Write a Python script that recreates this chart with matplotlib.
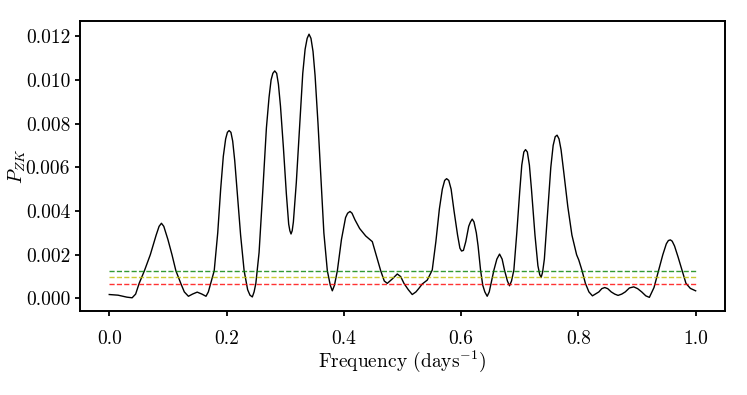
import numpy as np
import matplotlib
matplotlib.use('Agg')
from matplotlib import pyplot as plt
from matplotlib.ticker import FormatStrFormatter

plt.rcParams['font.family'] = 'serif'
plt.rcParams['font.serif'] = ['cmr10']
plt.rcParams['mathtext.fontset'] = 'cm'
plt.rcParams['axes.formatter.use_mathtext'] = True

# frequency (days^-1) and ZK power
freq = [0.000, 0.015, 0.030, 0.039, 0.045, 0.051, 0.060, 0.070, 0.080, 0.085,
        0.089, 0.093, 0.100, 0.107, 0.1136, 0.122, 0.128, 0.135, 0.142, 0.150,
        0.158, 0.165, 0.169, 0.173, 0.179, 0.185, 0.190, 0.1945, 0.1985, 0.2015,
        0.2044, 0.2075, 0.2105, 0.214, 0.219, 0.224, 0.230, 0.236, 0.240, 0.244,
        0.247, 0.250, 0.2555, 0.262, 0.268, 0.2725, 0.276, 0.279, 0.2822, 0.2855,
        0.2885, 0.292, 0.297, 0.302, 0.306, 0.308, 0.310, 0.312, 0.314, 0.319,
        0.325, 0.330, 0.334, 0.3375, 0.3407, 0.344, 0.3475, 0.351, 0.356, 0.361,
        0.366, 0.3719, 0.377, 0.3804, 0.384, 0.389, 0.396, 0.403, 0.4065, 0.4106,
        0.414, 0.419, 0.427, 0.4373, 0.4486, 0.455, 0.4629, 0.469, 0.4741, 0.483,
        0.4912, 0.497, 0.5026, 0.510, 0.5167, 0.523, 0.528, 0.5337, 0.5423, 0.5508,
        0.557, 0.563, 0.568, 0.572, 0.5753, 0.579, 0.583, 0.588, 0.594, 0.598,
        0.6008, 0.604, 0.608, 0.613, 0.616, 0.619, 0.622, 0.626, 0.629, 0.6332,
        0.637, 0.6405, 0.6445, 0.648, 0.652, 0.656, 0.661, 0.6656, 0.670, 0.674,
        0.679, 0.6826, 0.686, 0.690, 0.695, 0.700, 0.7035, 0.707, 0.7099, 0.713,
        0.7165, 0.720, 0.726, 0.731, 0.734, 0.7365, 0.739, 0.742, 0.748, 0.753,
        0.757, 0.7605, 0.7637, 0.767, 0.7705, 0.775, 0.782, 0.789, 0.797, 0.8007,
        0.806, 0.812, 0.818, 0.824, 0.829, 0.835, 0.840, 0.845, 0.850, 0.856,
        0.862, 0.8677, 0.874, 0.880, 0.887, 0.8944, 0.901, 0.908, 0.915, 0.9211,
        0.929, 0.937, 0.944, 0.950, 0.9535, 0.9569, 0.960, 0.964, 0.970, 0.9767,
        0.9835, 0.991, 1.000]
power = [0.00018, 0.00015, 0.00006, 0.00003, 0.0002, 0.00069, 0.00127, 0.0020, 0.0029, 0.0033,
         0.00344, 0.0033, 0.0027, 0.0020, 0.00127, 0.00069, 0.0003, 0.0001, 0.0002, 0.00029,
         0.0002, 0.0001, 0.0003, 0.00069, 0.00127, 0.0030, 0.0050, 0.0065, 0.0073, 0.0076,
         0.00768, 0.0076, 0.0072, 0.0063, 0.0046, 0.0029, 0.00127, 0.0004, 0.00015, 0.00007,
         0.0003, 0.00069, 0.0021, 0.0050, 0.0078, 0.0092, 0.0100, 0.0103, 0.01041, 0.0103,
         0.0098, 0.0088, 0.0069, 0.0048, 0.0034, 0.0031, 0.00295, 0.0031, 0.0035, 0.0053,
         0.0080, 0.0103, 0.0114, 0.0119, 0.01209, 0.0119, 0.0113, 0.0102, 0.0080, 0.0055,
         0.0030, 0.00127, 0.0006, 0.00035, 0.0006, 0.00127, 0.0027, 0.0037, 0.0039, 0.00398,
         0.0039, 0.0036, 0.0032, 0.00286, 0.0026, 0.0020, 0.00127, 0.0008, 0.00069, 0.0009,
         0.00112, 0.0010, 0.00069, 0.0004, 0.00018, 0.0003, 0.00046, 0.00066, 0.00084, 0.0013,
         0.0026, 0.0041, 0.0050, 0.0054, 0.00548, 0.0054, 0.0050, 0.0040, 0.0029, 0.0023,
         0.00217, 0.0022, 0.0026, 0.0033, 0.0035, 0.00363, 0.0035, 0.0030, 0.0024, 0.0013,
         0.0006, 0.0003, 0.0001, 0.0003, 0.0008, 0.0013, 0.0018, 0.00203, 0.0018, 0.0013,
         0.0008, 0.00058, 0.0008, 0.0013, 0.0030, 0.0049, 0.0061, 0.0067, 0.00681, 0.0067,
         0.0061, 0.0050, 0.0029, 0.0015, 0.0011, 0.00096, 0.0012, 0.0018, 0.0041, 0.0060,
         0.0070, 0.0074, 0.00747, 0.0073, 0.0068, 0.0058, 0.0042, 0.0029, 0.0020, 0.00176,
         0.0013, 0.00069, 0.0003, 0.00012, 0.0002, 0.0003, 0.00045, 0.0005, 0.00045, 0.0003,
         0.0002, 0.00014, 0.0002, 0.0003, 0.00048, 0.00053, 0.00045, 0.0003, 0.00012, 0.00005,
         0.0005, 0.0013, 0.0020, 0.0025, 0.00265, 0.00268, 0.00262, 0.0024, 0.0019, 0.0013,
         0.00069, 0.00046, 0.00035]

# false alarm levels
fap_levels = [0.00126, 0.00097, 0.00068]
fap_colors = ['g', 'y', 'r']

fig = plt.figure(figsize=(7.47, 3.95), dpi=100)
ax = fig.add_axes([0.107, 0.2127, 0.8635, 0.7341])

ax.plot(freq, power, color='k', lw=1.0)
for lev, c in zip(fap_levels, fap_colors):
    ax.plot([freq[0], freq[-1]], [lev, lev], color=c, ls='--', lw=1.0, alpha=0.8)

ax.set_xticks([0.0, 0.2, 0.4, 0.6, 0.8, 1.0])
ax.set_yticks([0.000, 0.002, 0.004, 0.006, 0.008, 0.010, 0.012])
ax.xaxis.set_major_formatter(FormatStrFormatter('%.1f'))
ax.yaxis.set_major_formatter(FormatStrFormatter('%.3f'))
ax.tick_params(labelsize=14, width=1.3, length=3.5)
ax.tick_params(axis='x', pad=10)
for s in ax.spines.values():
    s.set_linewidth(1.4)

ax.set_xlabel(r'Frequency (days$^{-1}$)', fontsize=14, labelpad=1)
ax.set_ylabel(r'$P_{ZK}$', fontsize=14)
ax.yaxis.set_label_coords(-0.08, 0.5)

plt.savefig('out.png', dpi=100)
